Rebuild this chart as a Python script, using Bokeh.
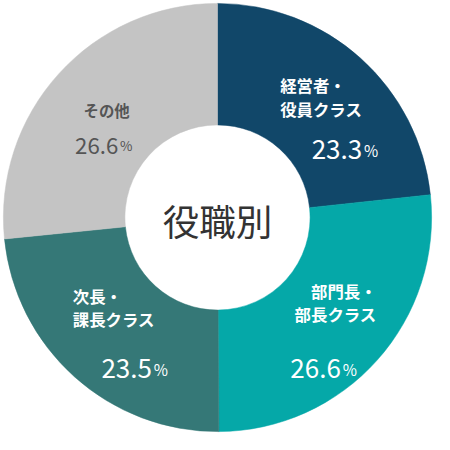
import math
from bokeh.plotting import figure
from bokeh.models import Range1d
from bokeh.core.properties import value
from bokeh.embed import file_html
from bokeh.resources import INLINE

# ---- data ----
categories = ["経営者・役員クラス", "部門長・部長クラス", "次長・課長クラス", "その他"]
label_line1 = ["経営者・", "部門長・", "次長・", "その他"]
label_line2 = ["役員クラス", "部長クラス", "課長クラス", ""]
shares = [23.3, 26.6, 23.5, 26.6]
colors = ["#114769", "#05a8a8", "#357877", "#c4c4c4"]
text_colors = ["#ffffff", "#ffffff", "#ffffff", "#555555"]
center_title = "役職別"

# ---- layout ----
W = 434
SCALE = W / 450.0
FONT = "Noto Sans CJK JP"
R_OUT, R_IN, R_LAB = 222, 96, 155

def fs(px):
    return f"{px * SCALE:.1f}px"

p = figure(width=W, height=W, output_backend="svg", toolbar_location=None,
           x_range=Range1d(-225, 225), y_range=Range1d(-225, 225),
           min_border=0, background_fill_color="white", border_fill_color="white")
p.axis.visible = False
p.grid.visible = False
p.outline_line_color = None

total = sum(shares)
starts, ends, mids = [], [], []
cum = 0.0
for v in shares:
    a0 = math.pi / 2 - 2 * math.pi * cum / total
    cum += v
    a1 = math.pi / 2 - 2 * math.pi * cum / total
    starts.append(a0)
    ends.append(a1)
    mids.append((a0 + a1) / 2)

p.annular_wedge(x=0, y=0, inner_radius=R_IN, outer_radius=R_OUT,
                start_angle=starts, end_angle=ends, direction="clock",
                fill_color=colors, line_color=colors, line_width=0.5)

# per-label offsets (dx, dy in reference px, y downward)
name_align = ["left", "right", "left", "center"]
name_dx = [-38.6, 49.3, -46.4, 0]
l1_dy = [-22, -27, -34, -8]
l2_dy = [3, -3, -10, 0]
num_dx = [46.4, 12.3, 35.6, 12]
num_dy = [45.3, 53.8, 41.7, 29]
num_size = [27, 27, 27, 23]
pct_size = [16, 16, 16, 14]
name_size = [17, 17, 17, 16]

for i in range(len(shares)):
    ax = R_LAB * math.cos(mids[i])
    ay = R_LAB * math.sin(mids[i])
    c = text_colors[i]
    p.text(x=[ax + name_dx[i]], y=[ay - l1_dy[i]], text=[label_line1[i]],
           text_font=value(FONT), text_font_size=fs(name_size[i]), text_font_style="bold",
           text_color=c, text_align=name_align[i], text_baseline="middle")
    if label_line2[i]:
        p.text(x=[ax + name_dx[i]], y=[ay - l2_dy[i]], text=[label_line2[i]],
               text_font=value(FONT), text_font_size=fs(name_size[i]), text_font_style="bold",
               text_color=c, text_align=name_align[i], text_baseline="middle")
    p.text(x=[ax + num_dx[i]], y=[ay - num_dy[i]], text=[f"{shares[i]:.1f}"],
           text_font=value(FONT), text_font_size=fs(num_size[i]),
           text_color=c, text_align="right", text_baseline="alphabetic")
    p.text(x=[ax + num_dx[i] + 2], y=[ay - num_dy[i]], text=["%"],
           text_font=value(FONT), text_font_size=fs(pct_size[i]),
           text_color=c, text_align="left", text_baseline="alphabetic")

p.text(x=[0], y=[-3], text=[center_title], text_font=value(FONT),
       text_font_size=fs(38), text_color="#333333",
       text_align="center", text_baseline="middle")

open("out.html", "w").write(file_html(p, INLINE))
